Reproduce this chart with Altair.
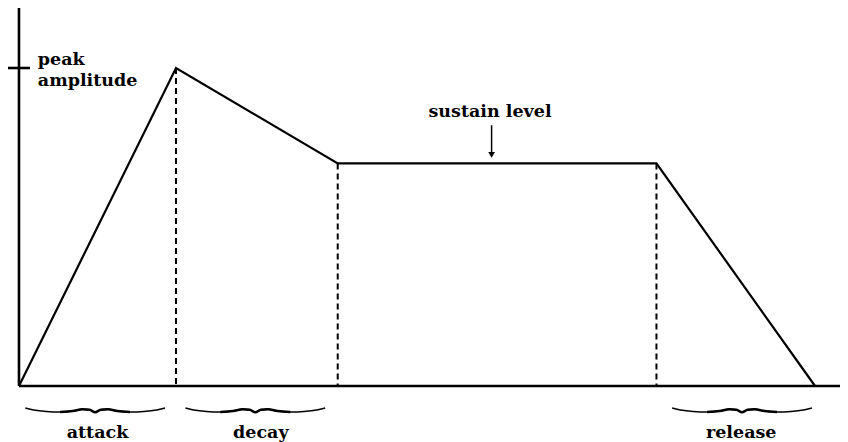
import altair as alt
import pandas as pd

# ---- data (time in arbitrary units, amplitude relative to peak) ----
env_t = [0.0, 1.0, 2.03, 4.06, 5.07]
env_amp = [0.0, 1.0, 0.70, 0.70, 0.0]

phase_names = ["attack", "decay", "release"]
brace_start = [0.04, 1.06, 4.16]
brace_end = [0.93, 1.95, 5.05]
label_t = [0.50, 1.54, 4.60]

peak_label = ["peak", "amplitude"]
sustain_label = "sustain level"

# ---- scales ----
PX_PER_Y = 318.0
H = 434
X_DOM = [-0.07, 5.229]
Y_DOM = [-56 / PX_PER_Y, 378 / PX_PER_Y]
FONT = "DejaVu Serif"
FS = 17.5

xs = alt.Scale(domain=X_DOM, nice=False, zero=False)
ys = alt.Scale(domain=Y_DOM, nice=False, zero=False)

env = pd.DataFrame({"t": env_t, "a": env_amp, "i": range(len(env_t))})

envelope = alt.Chart(env).mark_line(color="black", strokeWidth=2.2).encode(
    x=alt.X("t:Q", scale=xs, axis=None),
    y=alt.Y("a:Q", scale=ys, axis=None),
    order="i:O",
)

dashes = pd.DataFrame({"t": env_t[1:4], "a": env_amp[1:4], "z": [0.0] * 3})
dashed = alt.Chart(dashes).mark_rule(color="black", strokeWidth=2, strokeDash=[6, 4]).encode(
    x=alt.X("t:Q", scale=xs, axis=None), y=alt.Y("a:Q", scale=ys, axis=None), y2="z:Q"
)

# axes drawn as rules
axes_df = pd.DataFrame({
    "x": [0.0, 0.0, X_DOM[0]],
    "x2": [X_DOM[1], 0.0, 0.07],
    "y": [0.0, 0.0, 1.0],
    "y2": [0.0, Y_DOM[1], 1.0],
})
axes = alt.Chart(axes_df).mark_rule(color="black", strokeWidth=2.6).encode(
    x=alt.X("x:Q", scale=xs, axis=None), x2="x2:Q",
    y=alt.Y("y:Q", scale=ys, axis=None), y2="y2:Q"
)

# braces (shape template: fraction of width, pixel offset from brace line)
tmpl_u = [0, 0.06, 0.15, 0.25, 0.34, 0.41, 0.46, 0.5]
tmpl_d = [-2.0, 0.0, 1.5, 2.0, 1.0, -0.8, -0.3, 2.3]
full_u = tmpl_u + [1 - u for u in reversed(tmpl_u[:-1])]
full_d = tmpl_d + list(reversed(tmpl_d[:-1]))
BRACE_Y = -24 / PX_PER_Y
rows = []
for name, s, e in zip(phase_names, brace_start, brace_end):
    for k, (u, d) in enumerate(zip(full_u, full_d)):
        rows.append({"phase": name, "k": k, "t": s + u * (e - s), "a": BRACE_Y - d / PX_PER_Y})
brace_df = pd.DataFrame(rows)
braces = alt.Chart(brace_df).mark_line(
    color="black", strokeWidth=1.6, interpolate="monotone"
).encode(
    x=alt.X("t:Q", scale=xs, axis=None), y=alt.Y("a:Q", scale=ys, axis=None),
    detail="phase:N", order="k:Q"
)
brace_mid = alt.Chart(brace_df[(brace_df.k >= 3) & (brace_df.k <= 11)]).mark_line(
    color="black", strokeWidth=2.6, interpolate="monotone"
).encode(
    x=alt.X("t:Q", scale=xs, axis=None), y=alt.Y("a:Q", scale=ys, axis=None),
    detail="phase:N", order="k:Q"
)

labels_df = pd.DataFrame({"t": label_t, "a": [-52 / PX_PER_Y] * 3, "name": phase_names})
labels = alt.Chart(labels_df).mark_text(
    font=FONT, fontWeight="bold", fontSize=FS, align="center", baseline="alphabetic"
).encode(
    x=alt.X("t:Q", scale=xs, axis=None), y=alt.Y("a:Q", scale=ys, axis=None), text="name:N"
)

peak_df = pd.DataFrame({"txt": peak_label, "t": [0.12, 0.12], "a": [1.009, 0.943]})
peak_txt = alt.Chart(peak_df).mark_text(
    font=FONT, fontWeight="bold", fontSize=FS, align="left", baseline="alphabetic"
).encode(
    x=alt.X("t:Q", scale=xs, axis=None), y=alt.Y("a:Q", scale=ys, axis=None), text="txt:N"
)

sus_df = pd.DataFrame({"txt": [sustain_label], "t": [3.0], "a": [0.846]})
sus_txt = alt.Chart(sus_df).mark_text(
    font=FONT, fontWeight="bold", fontSize=FS, align="center", baseline="alphabetic"
).encode(
    x=alt.X("t:Q", scale=xs, axis=None), y=alt.Y("a:Q", scale=ys, axis=None), text="txt:N"
)

arrow_df = pd.DataFrame({"t": [3.01], "a": [0.82], "a2": [0.73], "tip": [0.727]})
arrow_shaft = alt.Chart(arrow_df).mark_rule(color="black", strokeWidth=1.5).encode(
    x=alt.X("t:Q", scale=xs, axis=None), y=alt.Y("a:Q", scale=ys, axis=None), y2="a2:Q"
)
arrow_head = alt.Chart(arrow_df).mark_point(
    shape="triangle-down", filled=True, color="black", size=45, opacity=1
).encode(
    x=alt.X("t:Q", scale=xs, axis=None), y=alt.Y("tip:Q", scale=ys, axis=None)
)

chart = alt.layer(
    axes, dashed, envelope, braces, brace_mid, labels, peak_txt, sus_txt,
    arrow_shaft, arrow_head
).properties(
    width=832, height=H, padding=0, autosize=alt.AutoSizeParams(type="none"),
    background="white",
).configure_view(stroke=None)

chart.save("out.html", embed_options={"renderer": "svg", "actions": False})
